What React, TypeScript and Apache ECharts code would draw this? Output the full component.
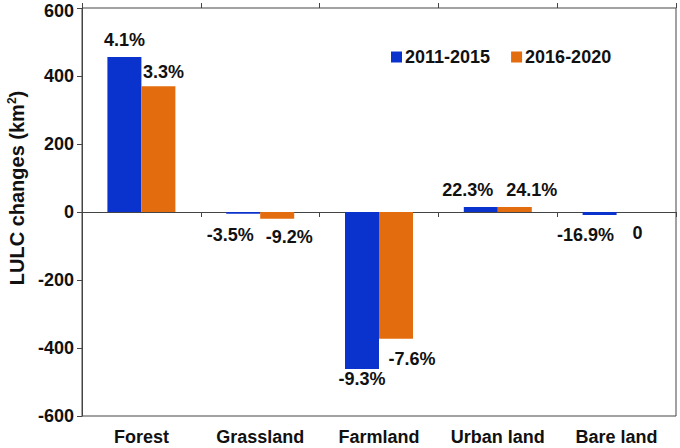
import React, { useEffect, useRef } from "react";
import * as echarts from "echarts";

const categories = ["Forest", "Grassland", "Farmland", "Urban land", "Bare land"];
const seriesNames = ["2011-2015", "2016-2020"];
const values2011 = [456, -5, -462, 15, -9];
const values2016 = [370, -20, -373, 15, 0];
const pct2011 = ["4.1%", "-3.5%", "-9.3%", "22.3%", "-16.9%"];
const pct2016 = ["3.3%", "-9.2%", "-7.6%", "24.1%", "0"];
const yTicks = { min: -600, max: 600, interval: 200 };

// label offsets (styling only)
const off2011: [number, number][] = [[0, -3], [-13, 7], [0, -4], [-13, -3], [-14, 6]];
const off2016: [number, number][] = [[5, 0], [12, 4], [16, 6], [17, -3], [4, 7]];

const FONT = "'Liberation Sans', Arial, sans-serif";

function buildData(vals: number[], pcts: string[], offs: [number, number][]) {
  return vals.map((v, i) => ({
    value: v,
    label: {
      show: true,
      position: v > 0 ? "top" : "bottom",
      distance: 5,
      offset: offs[i],
      formatter: pcts[i],
      fontFamily: FONT,
      fontSize: 18,
      fontWeight: "bold",
      color: "#111",
    },
  }));
}

export default function App() {
  const ref = useRef<HTMLDivElement>(null);
  useEffect(() => {
    if (!ref.current) return;
    const chart = echarts.init(ref.current, undefined, { renderer: "svg" });
    chart.setOption({
      animation: false,
      textStyle: { fontFamily: FONT },
      grid: {
        left: 82,
        right: 4,
        top: 8,
        bottom: 32,
        containLabel: false,
        outerBoundsMode: "none",
        show: true,
        borderColor: "#444",
        borderWidth: 1,
        backgroundColor: "transparent",
      },
      legend: {
        left: 386,
        top: 43,
        itemWidth: 11,
        itemHeight: 11,
        itemGap: 21,
        icon: "rect",
        textStyle: { fontFamily: FONT, fontSize: 18, fontWeight: "bold", color: "#111", padding: [0, 0, 0, -2] },
        data: seriesNames,
      },
      graphic: [
        {
          type: "text",
          x: 17,
          y: 188,
          rotation: Math.PI / 2,
          style: {
            text: "LULC changes (km{s|2})",
            rich: {
              s: { fontFamily: FONT, fontSize: 12, fontWeight: "bold", fill: "#111", verticalAlign: "top", lineHeight: 22 },
            },
            fontFamily: FONT,
            fontSize: 20,
            fontWeight: "bold",
            lineHeight: 22,
            fill: "#111",
            textAlign: "center",
            textVerticalAlign: "middle",
          },
        },
      ],
      xAxis: [
        {
          type: "category",
          data: categories,
          position: "bottom",
          axisLine: { show: true, onZero: true, lineStyle: { color: "#444", width: 1 } },
          axisTick: { show: true, length: 5, lineStyle: { color: "#444" } },
          axisLabel: {
            interval: 0,
            margin: 14,
            lineHeight: 14,
            fontFamily: FONT,
            fontSize: 18,
            fontWeight: "bold",
            color: "#111",
          },
        },
        {
          type: "category",
          data: categories,
          position: "top",
          axisLine: { show: false, onZero: true },
          axisTick: { show: true, length: 5, lineStyle: { color: "#444" } },
          axisLabel: { show: false },
        },
      ],
      yAxis: {
        type: "value",
        min: yTicks.min,
        max: yTicks.max,
        interval: yTicks.interval,
        axisLine: { show: true, lineStyle: { color: "#444" } },
        axisTick: { show: true, length: 5, lineStyle: { color: "#444" } },
        splitLine: { show: false },
        axisLabel: {
          margin: 8,
          lineHeight: 14,
          fontFamily: FONT,
          fontSize: 18,
          fontWeight: "bold",
          color: "#111",
          formatter: (v: number) => (v === yTicks.max ? `{t|${v}}` : `${v}`),
          rich: {
            t: { fontFamily: FONT, fontSize: 18, fontWeight: "bold", color: "#111", lineHeight: 14, padding: [6, 0, 0, 0] },
          },
        },
      },
      series: [
        {
          name: seriesNames[0],
          type: "bar",
          xAxisIndex: 0,
          barWidth: 34,
          barGap: "0%",
          itemStyle: { color: "#0A32CC" },
          data: buildData(values2011, pct2011, off2011),
        },
        {
          name: seriesNames[1],
          type: "bar",
          xAxisIndex: 0,
          barWidth: 34,
          barGap: "0%",
          itemStyle: { color: "#E36C0E" },
          data: buildData(values2016, pct2016, off2016),
        },
      ],
    });
    return () => chart.dispose();
  }, []);
  return <div ref={ref} style={{ width: 680, height: 448, position: "absolute", left: 0, top: 0 }} />;
}
